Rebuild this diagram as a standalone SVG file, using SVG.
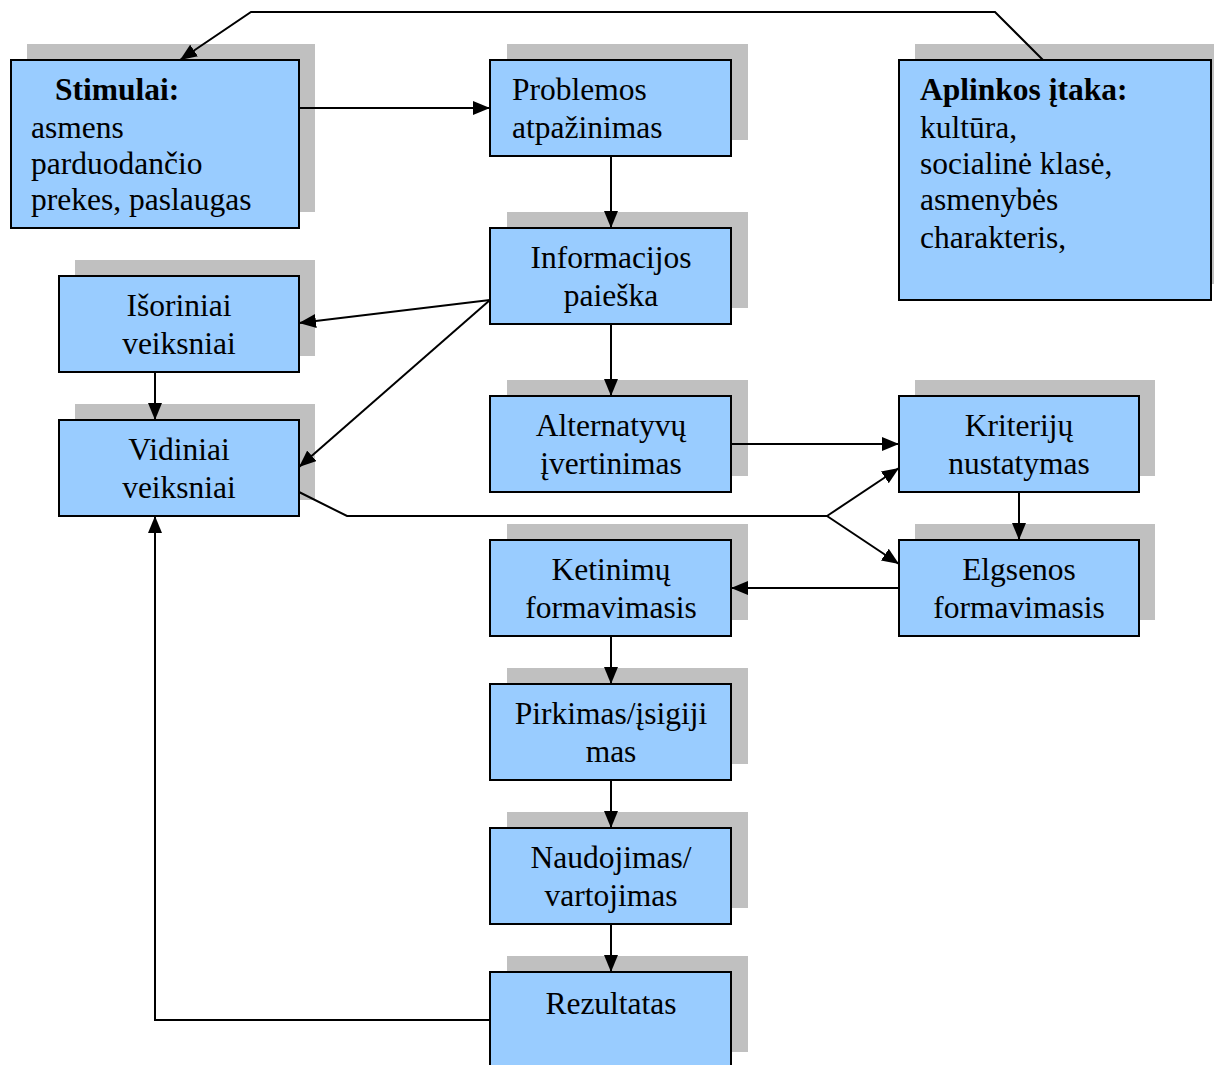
<svg xmlns="http://www.w3.org/2000/svg" width="1214" height="1065" viewBox="0 0 1214 1065">
  <style>
    .shadow { fill: #c0c0c0; }
    .box { fill: #99ccff; stroke: #000; stroke-width: 2; }
    .t { font-family: "Liberation Serif", "Times New Roman", serif; font-size: 31.5px; fill: #000; }
    .c { text-anchor: middle; }
    .b { font-weight: bold; }
    .edge { fill: none; stroke: #000; stroke-width: 2; }
  </style>
  <defs>
    <marker id="arrow" markerUnits="userSpaceOnUse" markerWidth="18" markerHeight="14" refX="17" refY="7" orient="auto">
      <path d="M0,0 L17,7 L0,14 Z" fill="#000"/>
    </marker>
  </defs>
  <rect width="1214" height="1065" fill="#fff"/>

  <!-- process steps -->
  <g id="stimulai">
    <rect class="shadow" x="27" y="44" width="288" height="168"/>
    <rect class="box" x="11" y="60" width="288" height="168"/>
    <text class="t b" x="55" y="100">Stimulai:</text>
    <text class="t" x="31" y="138">asmens</text>
    <text class="t" x="31" y="174">parduodančio</text>
    <text class="t" x="31" y="210">prekes, paslaugas</text>
  </g>

  <g id="problemos">
    <rect class="shadow" x="507" y="44" width="241" height="96"/>
    <rect class="box" x="490" y="60" width="241" height="96"/>
    <text class="t" x="512" y="100">Problemos</text>
    <text class="t" x="512" y="138">atpažinimas</text>
  </g>

  <g id="informacija">
    <rect class="shadow" x="507" y="212" width="241" height="96"/>
    <rect class="box" x="490" y="228" width="241" height="96"/>
    <text class="t c" x="611" y="268">Informacijos</text>
    <text class="t c" x="611" y="306">paieška</text>
  </g>

  <g id="alternatyvos">
    <rect class="shadow" x="507" y="380" width="241" height="96"/>
    <rect class="box" x="490" y="396" width="241" height="96"/>
    <text class="t c" x="611" y="436">Alternatyvų</text>
    <text class="t c" x="611" y="474">įvertinimas</text>
  </g>

  <g id="ketinimai">
    <rect class="shadow" x="507" y="524" width="241" height="96"/>
    <rect class="box" x="490" y="540" width="241" height="96"/>
    <text class="t c" x="611" y="580">Ketinimų</text>
    <text class="t c" x="611" y="618">formavimasis</text>
  </g>

  <g id="pirkimas">
    <rect class="shadow" x="507" y="668" width="241" height="96"/>
    <rect class="box" x="490" y="684" width="241" height="96"/>
    <text class="t c" x="611" y="724">Pirkimas/įsigiji</text>
    <text class="t c" x="611" y="762">mas</text>
  </g>

  <g id="naudojimas">
    <rect class="shadow" x="507" y="812" width="241" height="96"/>
    <rect class="box" x="490" y="828" width="241" height="96"/>
    <text class="t c" x="611" y="868">Naudojimas/</text>
    <text class="t c" x="611" y="906">vartojimas</text>
  </g>

  <g id="rezultatas">
    <rect class="shadow" x="507" y="956" width="241" height="96"/>
    <rect class="box" x="490" y="972" width="241" height="96"/>
    <text class="t c" x="611" y="1014">Rezultatas</text>
  </g>

  <g id="isoriniai">
    <rect class="shadow" x="75" y="260" width="240" height="96"/>
    <rect class="box" x="59" y="276" width="240" height="96"/>
    <text class="t c" x="179" y="316">Išoriniai</text>
    <text class="t c" x="179" y="354">veiksniai</text>
  </g>

  <g id="vidiniai">
    <rect class="shadow" x="75" y="404" width="240" height="96"/>
    <rect class="box" x="59" y="420" width="240" height="96"/>
    <text class="t c" x="179" y="460">Vidiniai</text>
    <text class="t c" x="179" y="498">veiksniai</text>
  </g>

  <g id="aplinka">
    <rect class="shadow" x="915" y="44" width="312" height="240"/>
    <rect class="box" x="899" y="60" width="312" height="240"/>
    <text class="t b" x="920" y="100">Aplinkos įtaka:</text>
    <text class="t" x="920" y="138">kultūra,</text>
    <text class="t" x="920" y="174">socialinė klasė,</text>
    <text class="t" x="920" y="210">asmenybės</text>
    <text class="t" x="920" y="248">charakteris,</text>
  </g>

  <g id="kriterijai">
    <rect class="shadow" x="915" y="380" width="240" height="96"/>
    <rect class="box" x="899" y="396" width="240" height="96"/>
    <text class="t c" x="1019" y="436">Kriterijų</text>
    <text class="t c" x="1019" y="474">nustatymas</text>
  </g>

  <g id="elgsena">
    <rect class="shadow" x="915" y="524" width="240" height="96"/>
    <rect class="box" x="899" y="540" width="240" height="96"/>
    <text class="t c" x="1019" y="580">Elgsenos</text>
    <text class="t c" x="1019" y="618">formavimasis</text>
  </g>

  <!-- connectors -->
  <g id="connectors">
    <polyline class="edge" points="1043,60 995,12 251,12 180,60" marker-end="url(#arrow)"/>
    <line class="edge" x1="299" y1="108" x2="490" y2="108" marker-end="url(#arrow)"/>
    <line class="edge" x1="611" y1="156" x2="611" y2="228" marker-end="url(#arrow)"/>
    <line class="edge" x1="490" y1="300" x2="299" y2="323" marker-end="url(#arrow)"/>
    <line class="edge" x1="490" y1="300" x2="299" y2="467" marker-end="url(#arrow)"/>
    <line class="edge" x1="611" y1="324" x2="611" y2="396" marker-end="url(#arrow)"/>
    <line class="edge" x1="155" y1="372" x2="155" y2="420" marker-end="url(#arrow)"/>
    <line class="edge" x1="731" y1="444" x2="899" y2="444" marker-end="url(#arrow)"/>
    <polyline class="edge" points="299,492 347,516 827,516"/>
    <line class="edge" x1="827" y1="516" x2="899" y2="468" marker-end="url(#arrow)"/>
    <line class="edge" x1="827" y1="516" x2="899" y2="564" marker-end="url(#arrow)"/>
    <line class="edge" x1="1019" y1="492" x2="1019" y2="540" marker-end="url(#arrow)"/>
    <line class="edge" x1="899" y1="588" x2="731" y2="588" marker-end="url(#arrow)"/>
    <line class="edge" x1="611" y1="636" x2="611" y2="684" marker-end="url(#arrow)"/>
    <line class="edge" x1="611" y1="780" x2="611" y2="828" marker-end="url(#arrow)"/>
    <line class="edge" x1="611" y1="924" x2="611" y2="972" marker-end="url(#arrow)"/>
    <polyline class="edge" points="490,1020 155,1020 155,516" marker-end="url(#arrow)"/>
  </g>
</svg>
